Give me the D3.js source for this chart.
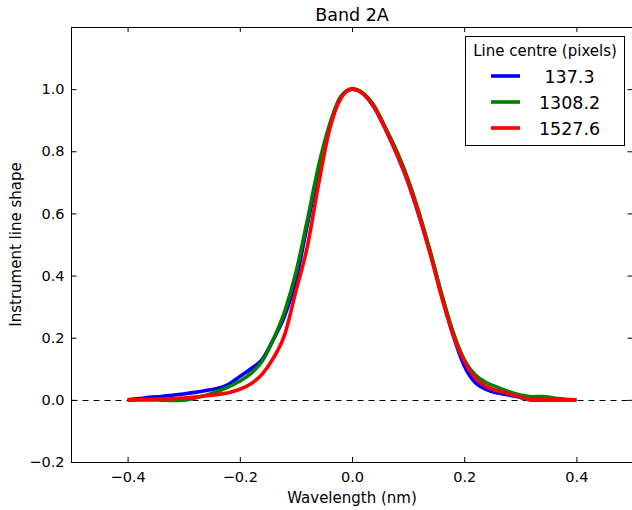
<!DOCTYPE html>
<html>
<head>
<meta charset="utf-8">
<script src="https://cdn.jsdelivr.net/npm/d3@7"></script>
<style>
  html, body { margin: 0; padding: 0; background: #fff; }
  svg { display: block; font-family: "DejaVu Sans", sans-serif; }
</style>
</head>
<body>
<svg id="chart" width="632" height="510"></svg>
<script>
// ---- data ----
const wavelength = [-0.40,-0.38,-0.36,-0.34,-0.32,-0.30,-0.28,-0.26,-0.24,-0.22,-0.20,-0.18,-0.16,-0.14,-0.12,-0.10,-0.08,-0.06,-0.04,-0.02,
  0.00,0.02,0.04,0.06,0.08,0.10,0.12,0.14,0.16,0.18,0.20,0.22,0.24,0.26,0.28,0.30,0.32,0.34,0.36,0.38,0.40];
const seriesNames = ["137.3", "1308.2", "1527.6"];
const seriesColors = ["#0000ff", "#008000", "#ff0000"];
const ils137 = [0.000,0.004,0.008,0.011,0.015,0.019,0.024,0.030,0.037,0.050,0.075,0.100,0.130,0.195,0.270,0.385,0.560,0.730,0.880,0.975,
  1.000,0.985,0.940,0.870,0.790,0.700,0.590,0.470,0.335,0.210,0.110,0.055,0.033,0.022,0.016,0.008,0.000,0.000,0.000,0.000,0.000];
const ils1308 = [0.000,0.000,0.000,-0.001,-0.002,-0.001,0.006,0.015,0.027,0.042,0.060,0.085,0.125,0.195,0.285,0.410,0.575,0.750,0.885,0.975,
  1.000,0.987,0.945,0.875,0.800,0.710,0.600,0.475,0.340,0.220,0.130,0.080,0.055,0.040,0.026,0.016,0.010,0.011,0.006,0.002,0.000];
const ils1527 = [0.000,0.001,0.002,0.003,0.004,0.006,0.009,0.013,0.017,0.023,0.034,0.052,0.083,0.135,0.210,0.350,0.490,0.690,0.870,0.970,
  1.000,0.985,0.940,0.870,0.790,0.700,0.590,0.465,0.330,0.210,0.125,0.070,0.042,0.029,0.020,0.009,0.000,0.000,0.000,0.000,0.000];
const xTicks = [-0.4, -0.2, 0.0, 0.2, 0.4];
const yTicks = [-0.2, 0.0, 0.2, 0.4, 0.6, 0.8, 1.0];
const titleText = "Band 2A";
const xLabel = "Wavelength (nm)";
const yLabel = "Instrument line shape";
const legendTitle = "Line centre (pixels)";

// ---- layout ----
const svg = d3.select("#chart");
const L = 71.5, R = 632.5, T = 27, B = 462;
const x = d3.scaleLinear().domain([-0.5, 0.5]).range([L, R]);
const y = d3.scaleLinear().domain([-0.2, 1.2]).range([B, T]);

const seriesVals = [ils137, ils1308, ils1527];

// zero dashed line
svg.append("line")
  .attr("x1", L).attr("x2", R)
  .attr("y1", Math.round(y(0)) + 0.5).attr("y2", Math.round(y(0)) + 0.5)
  .attr("stroke", "#000").attr("stroke-width", 1)
  .attr("stroke-dasharray", "6,5");

// curves
const line = d3.line()
  .x((d, i) => x(wavelength[i]))
  .y(d => y(d))
  .curve(d3.curveMonotoneX);

seriesVals.forEach((vals, k) => {
  svg.append("path")
    .datum(vals)
    .attr("d", line)
    .attr("fill", "none")
    .attr("stroke", seriesColors[k])
    .attr("stroke-width", 3.6)
    .attr("stroke-linejoin", "round")
    .attr("stroke-linecap", "butt");
});

// axes (ticks inward, all four sides)
const tickLen = 5;
const fmt = d => (d < 0 ? "\u2212" : "") + Math.abs(d).toFixed(1);

const gx = svg.append("g").attr("transform", `translate(0,${B})`)
  .call(d3.axisBottom(x).tickValues(xTicks).tickSizeInner(-tickLen).tickSizeOuter(0).tickPadding(10).tickFormat(fmt));
const gxt = svg.append("g").attr("transform", `translate(0,${T})`)
  .call(d3.axisTop(x).tickValues(xTicks).tickSizeInner(-tickLen).tickSizeOuter(0).tickFormat(""));
const gy = svg.append("g").attr("transform", `translate(${L},0)`)
  .call(d3.axisLeft(y).tickValues(yTicks).tickSizeInner(-tickLen).tickSizeOuter(0).tickPadding(7).tickFormat(fmt));
const gyr = svg.append("g").attr("transform", `translate(${R},0)`)
  .call(d3.axisRight(y).tickValues(yTicks).tickSizeInner(-tickLen).tickSizeOuter(0).tickFormat(""));

[gx, gxt, gy, gyr].forEach(g => {
  g.select(".domain").remove();
  g.selectAll("line").attr("stroke", "#000");
  g.selectAll("text").attr("fill", "#000").style("font-size", "14.5px").style("font-family", "DejaVu Sans");
});

// frame
svg.append("rect")
  .attr("x", L).attr("y", T + 0.5)
  .attr("width", R - L).attr("height", B - T)
  .attr("fill", "none").attr("stroke", "#000").attr("stroke-width", 1);

// title & labels
svg.append("text").attr("x", (L + R) / 2).attr("y", 21)
  .attr("text-anchor", "middle").style("font-size", "17.5px").text(titleText);
svg.append("text").attr("x", (L + R) / 2).attr("y", 503)
  .attr("text-anchor", "middle").style("font-size", "15px").text(xLabel);
svg.append("text").attr("transform", `translate(21,${(T + B) / 2}) rotate(-90)`)
  .attr("text-anchor", "middle").style("font-size", "15px").text(yLabel);

// legend
const lg = svg.append("g");
lg.append("rect").attr("x", 465.5).attr("y", 36.5).attr("width", 159).attr("height", 109)
  .attr("fill", "#fff").attr("stroke", "#000").attr("stroke-width", 1);
lg.append("text").attr("x", 545).attr("y", 56).attr("text-anchor", "middle")
  .style("font-size", "15px").text(legendTitle);
const rowsY = [76, 102, 128];
seriesNames.forEach((name, k) => {
  lg.append("line").attr("x1", 491).attr("x2", 520).attr("y1", rowsY[k]).attr("y2", rowsY[k])
    .attr("stroke", seriesColors[k]).attr("stroke-width", 3.6);
  lg.append("text").attr("x", 569.5).attr("y", rowsY[k] + 6.5).attr("text-anchor", "middle")
    .style("font-size", "17.5px").text(name);
});
</script>
</body>
</html>
